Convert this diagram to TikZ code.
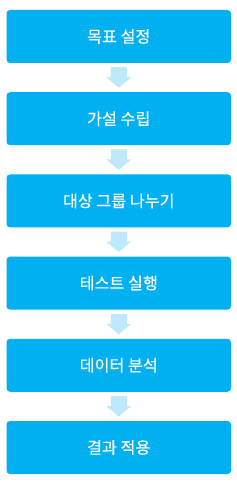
\documentclass[tikz,border=0pt]{standalone}
\usepackage{fontspec}
\newfontfamily\kr[FakeBold=0.35]{Noto Sans CJK KR}
\definecolor{boxblue}{HTML}{00B0F0}
\definecolor{arrowblue}{HTML}{BDE9FA}
\tikzset{
  stepbox/.style={fill=boxblue, draw=none, rounded corners=3.5pt, minimum width=224.5pt, minimum height=53pt, inner sep=0pt, text=white, font=\kr\fontsize{16.2}{19}\selectfont},
  flowarrow/.style={fill=arrowblue, draw=none}
}
\begin{document}
\begin{tikzpicture}[x=1pt,y=1pt]
\useasboundingbox (0,0) rectangle (237,-489);
\foreach \i/\t in {0/목표 설정,1/가설 수립,2/대상 그룹 나누기,3/테스트 실행,4/데이터 분석,5/결과 적용}{
  \node[stepbox] (b\i) at (118.75,{-36.5-82.2*\i}) {\t};
}
\foreach \i in {0,...,4}{
  \path (b\i.south) ++(0,-4) coordinate (a\i);
  \fill[flowarrow] (a\i) ++(-8,0) -- ++(16,0) -- ++(0,-10) -- ++(4.5,0) -- ++(-12.5,-10.5) -- ++(-12.5,10.5) -- ++(4.5,0) -- cycle;
}
\end{tikzpicture}
\end{document}
